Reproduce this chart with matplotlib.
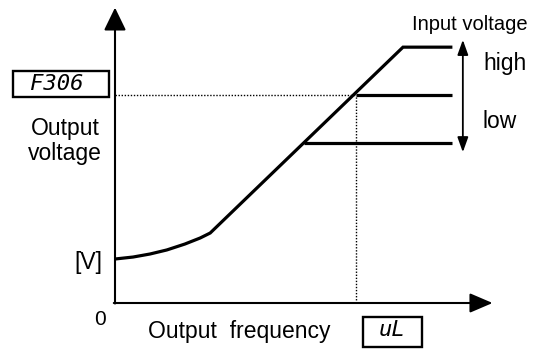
import matplotlib
matplotlib.use("Agg")
import matplotlib.pyplot as plt
from matplotlib.patches import Rectangle

plt.rcParams['font.family'] = ['Liberation Sans', 'DejaVu Sans']

# V/f pattern (frequency in Hz, voltage in V)
freq_boost = [0, 4.5, 8.7, 12.9, 17.4, 21.2, 23.7]
volt_boost = [42.3, 44.2, 47.1, 51.0, 56.7, 62.5, 67.3]
freq_ramp_end = 71.7
freq_flat_end = 84
level_high = 246
level_mid = 200
level_low = 154
freq_low_start = 47
freq_mid_start = 60
base_freq = 60          # uL
f306_volt = 200         # F306
freq_axis_max = 94
volt_axis_max = 284

# pixel scale of the drawing
kx = 241 / 60
ky = 208 / 200

fig = plt.figure(figsize=(5.38, 3.49), dpi=100)
ax = fig.add_axes([0, 0, 1, 1])
ax.set_xlim(-115 / kx, (538 - 115) / kx)
ax.set_ylim(-(349 - 303) / ky, 303 / ky)
ax.axis('off')

# axes with arrows
ax.annotate('', xy=(0, volt_axis_max), xytext=(0, -0.5),
            arrowprops=dict(arrowstyle='-|>,head_length=0.7,head_width=0.34',
                            lw=1.5, color='black', mutation_scale=20,
                            shrinkA=0, shrinkB=0))
ax.annotate('', xy=(freq_axis_max, 0), xytext=(-0.3, 0),
            arrowprops=dict(arrowstyle='-|>,head_length=0.7,head_width=0.3',
                            lw=1.5, color='black', mutation_scale=20,
                            shrinkA=0, shrinkB=0))

# dotted guides
ax.plot([0, base_freq], [f306_volt, f306_volt], color='black', lw=1.0,
        ls=(0, (1, 1.2)))
ax.plot([base_freq, base_freq], [0, f306_volt], color='black', lw=1.0,
        ls=(0, (1, 1.2)))

# curve
lw = 2.3
ax.plot(freq_boost + [freq_ramp_end, freq_flat_end],
        volt_boost + [level_high, level_high],
        color='black', lw=lw, solid_joinstyle='miter', solid_capstyle='butt')
ax.plot([freq_mid_start, freq_flat_end], [level_mid, level_mid],
        color='black', lw=lw, solid_capstyle='butt')
ax.plot([freq_low_start, freq_flat_end], [level_low, level_low],
        color='black', lw=lw, solid_capstyle='butt')

# input voltage double arrow
ax.annotate('', xy=(86.6, 145), xytext=(86.6, 253),
            arrowprops=dict(arrowstyle='<|-|>,head_length=0.5,head_width=0.18',
                            lw=1.3, color='black', mutation_scale=18,
                            shrinkA=0, shrinkB=0))

# boxes
ax.add_patch(Rectangle((-25.4, 198), 23.9, 25, fill=False, lw=1.7,
                       ec='black', clip_on=False))
ax.add_patch(Rectangle((61.7, -42.3), 14.7, 28.8, fill=False, lw=1.7,
                       ec='black', clip_on=False))
ax.text(-14.4, 210.5, 'F306', family='DejaVu Sans Mono', style='italic',
        fontsize=16, ha='center', va='center')
ax.text(69.0, -25.5, 'uL', family='DejaVu Sans Mono', style='italic',
        fontsize=16, ha='center', va='center')

# labels
ax.text(-12.4, 156, 'Output\nvoltage', fontsize=16.5, ha='center',
        va='center', multialignment='center', linespacing=1.12)
ax.text(-3.2, 39.4, '[V]', fontsize=16.5, ha='right', va='center')
ax.text(-3.7, -16.3, '0', fontsize=15, ha='center', va='center')
ax.text(8.2, -33.7, 'Output  frequency', fontsize=16.5, ha='left',
        va='baseline')
ax.text(88.4, 262.5, 'Input voltage', fontsize=14.5, ha='center',
        va='baseline')
ax.text(91.6, 224, 'high', fontsize=16.5, ha='left', va='baseline')
ax.text(91.6, 168, 'low', fontsize=16.5, ha='left', va='baseline')

fig.savefig('out.png', dpi=100)
